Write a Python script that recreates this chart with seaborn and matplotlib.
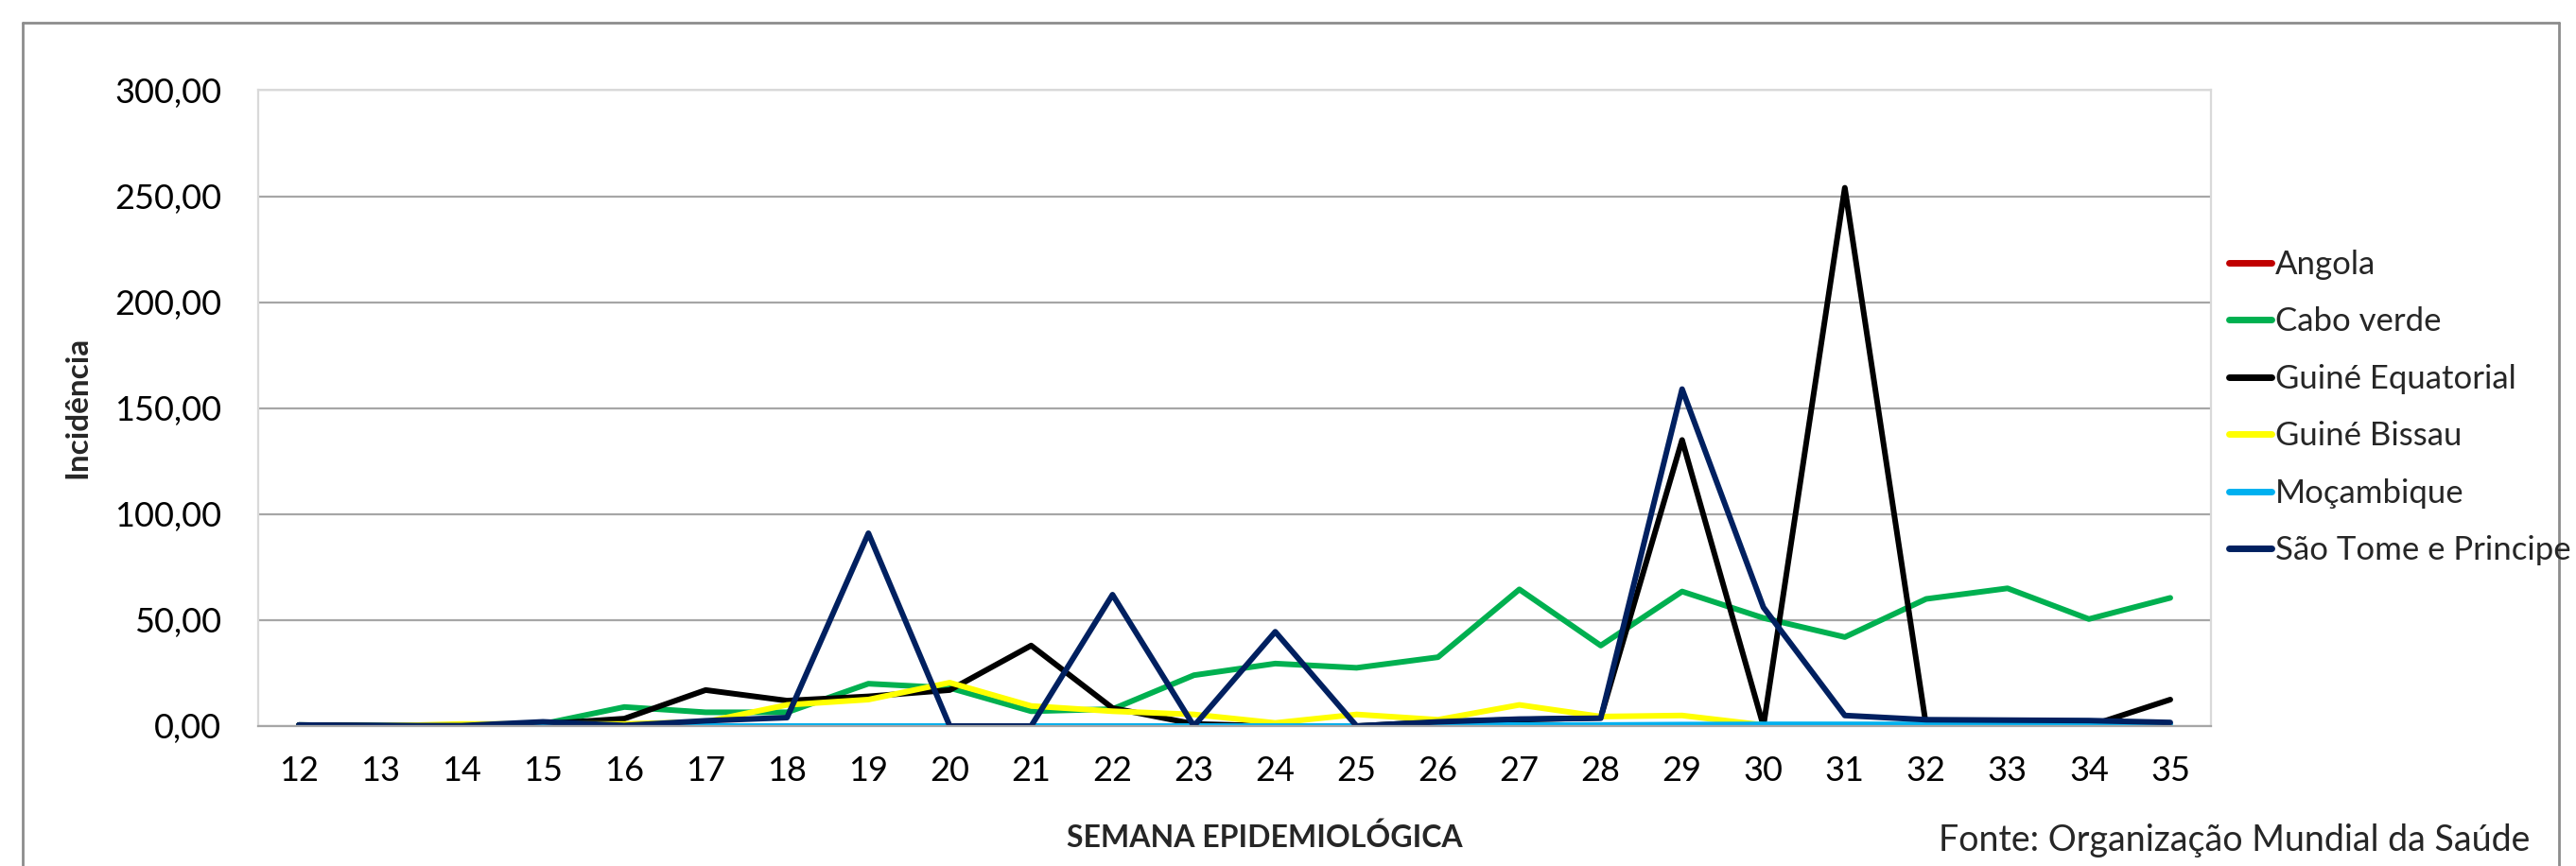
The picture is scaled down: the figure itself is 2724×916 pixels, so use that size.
import matplotlib
matplotlib.use("Agg")
import matplotlib.pyplot as plt
import seaborn as sns
import pandas as pd
from matplotlib.lines import Line2D
from matplotlib.ticker import FuncFormatter

weeks = list(range(12, 36))
angola = [0.0] * 24
cabo_verde = [0.5, 0.2, 0.2, 1.0, 9.0, 6.5, 6.5, 20.0, 18.0, 7.0, 8.0, 24.0, 29.5, 27.5, 32.5,
              64.5, 38.0, 63.5, 51.0, 42.0, 60.0, 65.0, 50.5, 60.5]
guine_eq = [0.5, 0.2, 0.2, 1.0, 3.5, 17.0, 12.0, 14.0, 17.0, 38.0, 8.5, 1.0, 0.0, 0.0, 2.0,
            3.0, 4.0, 135.0, 0.0, 254.0, 0.0, 0.0, 0.0, 12.5]
guine_bissau = [0.0, 0.0, 1.0, 1.0, 1.0, 2.0, 10.0, 12.5, 20.5, 9.5, 7.0, 5.5, 1.5, 5.5, 3.0,
                10.0, 4.5, 5.0, 0.5, 0.5, 0.5, 0.5, 0.5, 0.0]
mocambique = [0.0, 0.0, 0.0, 0.0, 0.0, 0.0, 0.0, 0.0, 0.0, 0.0, 0.0, 0.0, 0.0, 0.0, 0.3,
              0.5, 0.5, 0.7, 0.8, 0.8, 0.8, 0.8, 0.8, 0.8]
sao_tome = [0.5, 0.2, 0.2, 2.0, 0.3, 2.5, 4.0, 91.0, 0.0, 0.0, 62.0, 0.0, 44.5, 0.0, 2.0,
            3.3, 3.7, 159.0, 56.0, 5.0, 3.0, 2.8, 2.6, 1.7]

series_names = ["Angola", "Cabo verde", "Guiné Equatorial", "Guiné Bissau", "Moçambique",
                "São Tome e Principe"]
series_values = [angola, cabo_verde, guine_eq, guine_bissau, mocambique, sao_tome]
colors = ["#C00000", "#00B050", "#000000", "#FFFF00", "#00B0F0", "#002060"]

y_ticks = [0, 50, 100, 150, 200, 250, 300]

rows = []
for name, vals in zip(series_names, series_values):
    for w, v in zip(weeks, vals):
        rows.append({"Semana": w, "Incidência": v, "País": name})
df = pd.DataFrame(rows)

sns.set_theme(style="white")
plt.rcParams["font.family"] = ["Lato", "DejaVu Sans"]

fig = plt.figure(figsize=(27.24, 9.16), dpi=100)
ax = fig.add_axes([273 / 2724, 1 - 768 / 916, (2338 - 273) / 2724, (768 - 95.5) / 916])

palette = dict(zip(series_names, colors))
sns.lineplot(data=df, x="Semana", y="Incidência", hue="País", hue_order=series_names,
             palette=palette, linewidth=4.3, ax=ax, legend=False, sort=False)

ax.set_xlim(11.5, 35.5)
ax.set_ylim(0, 300)
ax.set_xticks(weeks)
ax.set_xticklabels([str(w) for w in weeks])
ax.set_yticks(y_ticks)
ax.yaxis.set_major_formatter(FuncFormatter(lambda v, p: f"{v:.2f}".replace(".", ",")))
ax.tick_params(axis="both", labelsize=26, length=0, colors="black")
ax.tick_params(axis="x", pad=22)
ax.tick_params(axis="y", pad=28)
ax.yaxis.grid(True, color="#a6a6a6", linewidth=1.6)
ax.set_axisbelow(True)
for side in ["left", "top", "right"]:
    ax.spines[side].set_color("#d9d9d9")
    ax.spines[side].set_linewidth(1.6)
ax.spines["bottom"].set_color("#a6a6a6")
ax.spines["bottom"].set_linewidth(1.6)

ax.set_xlabel("")
ax.set_ylabel("")
fig.text(82 / 2724, 1 - 431 / 916, "Incidência", rotation=90, ha="center", va="center",
         fontsize=24, fontweight="bold")
fig.text(1337 / 2724, 1 - 886 / 916, "SEMANA EPIDEMIOLÓGICA", ha="center", va="center",
         fontsize=23, fontweight="bold")
fig.text(2675 / 2724, 1 - 889 / 916, "Fonte: Organização Mundial da Saúde", ha="right",
         va="center", fontsize=27)

handles = [Line2D([0], [0], color=c, linewidth=5, solid_capstyle="round") for c in colors]
fig.legend(handles, series_names, loc="upper left", bbox_to_anchor=(2343 / 2724, 1 - 250 / 916),
           frameon=False, fontsize=25, handlelength=1.3, handletextpad=0.1,
           labelspacing=0.82, borderaxespad=0)

# outer chart border
border_kw = dict(color="#8c8c8c", linewidth=2, transform=fig.transFigure, clip_on=False)
x0, x1, yt = 24 / 2724, 2706 / 2724, 1 - 24 / 916
fig.add_artist(Line2D([x0, x0], [0, yt], **border_kw))
fig.add_artist(Line2D([x0, x1], [yt, yt], **border_kw))
fig.add_artist(Line2D([x1, x1], [0, yt], **border_kw))

fig.savefig("out.png", dpi=100)
